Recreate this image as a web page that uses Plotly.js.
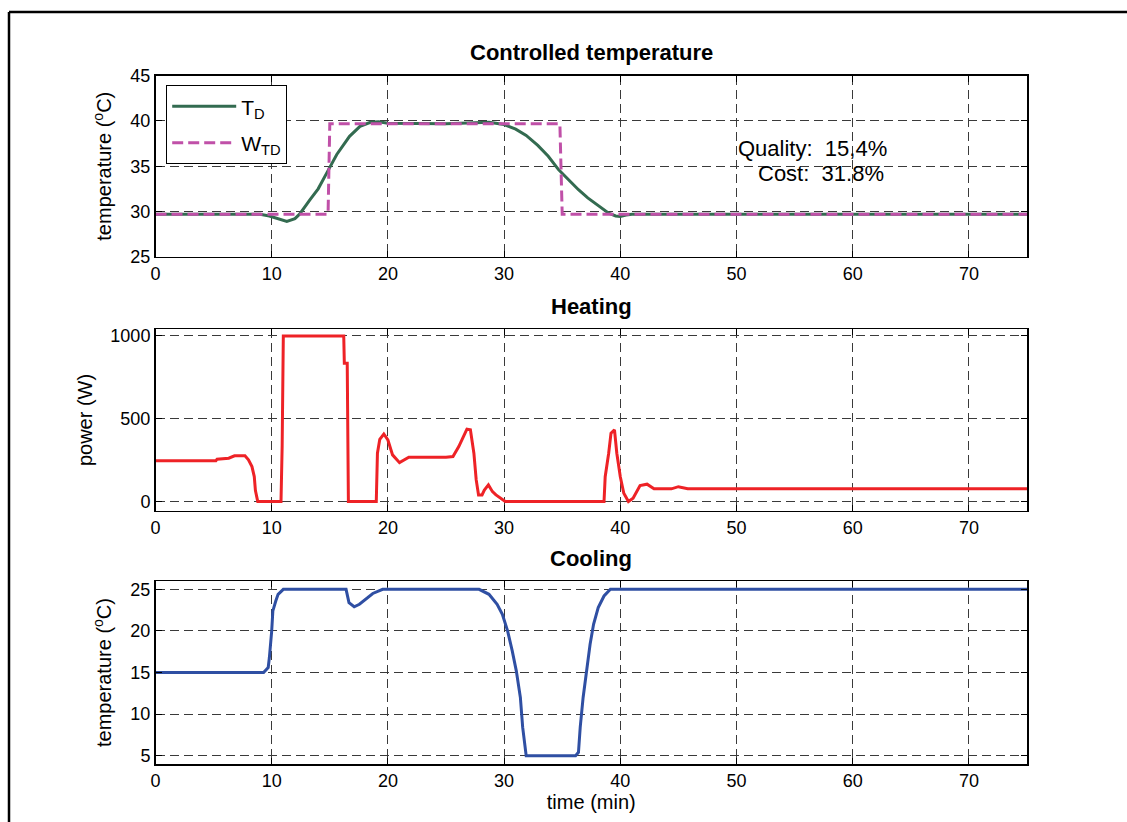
<!DOCTYPE html>
<html>
<head>
<meta charset="utf-8">
<script src="https://cdn.plot.ly/plotly-3.0.1.min.js"></script>
<style>html,body{margin:0;padding:0;background:#fff;}#chart{width:1127px;height:822px;}</style>
</head>
<body>
<div id="chart"></div>
<script>
// ---- Controlled temperature ----
const tdTime = [0, 9, 9.8, 10.5, 11.3, 12.0, 12.4, 13.3, 14.0, 14.8, 15.6, 16.7, 17.6, 18.5, 19.2, 20.0, 25, 28.7, 30, 31, 31.9, 32.9, 33.8, 34.7, 35.6, 36.4, 37.2, 37.9, 38.5, 39, 39.6, 40, 40.5, 41, 75];
const tdTemp = [29.7, 29.7, 29.5, 29.2, 28.9, 29.2, 29.7, 31.3, 32.5, 34.4, 36.3, 38.3, 39.4, 39.85, 39.9, 39.75, 39.7, 39.85, 39.6, 39.1, 38.4, 37.3, 36.1, 34.6, 33.4, 32.4, 31.5, 30.8, 30.2, 29.8, 29.5, 29.45, 29.6, 29.7, 29.7];
const wtdTime = [0, 14.85, 15.0, 34.8, 35.0, 75];
const wtdTemp = [29.7, 29.7, 39.7, 39.7, 29.7, 29.7];
const qualityText = 'Quality:  15,4%';
const costText = 'Cost:  31.8%';

// ---- Heating ----
const heatTime = [0, 5.2, 5.3, 6.3, 6.8, 7.7, 8.0, 8.3, 8.5, 8.6, 8.8, 10.8, 10.9, 11.0, 16.2, 16.25, 16.5, 16.6, 19.0, 19.05, 19.1, 19.3, 19.65, 20.0, 20.4, 21.0, 21.8, 25.0, 25.6, 26.1, 26.8, 27.1, 27.4, 27.6, 27.8, 28.1, 28.3, 28.65, 29.0, 29.3, 29.85, 30.1, 38.6, 38.7, 39.0, 39.2, 39.5, 39.7, 40.0, 40.3, 40.7, 41.1, 41.7, 42.3, 42.9, 44.4, 45.0, 45.8, 75];
const heatPower = [247, 247, 256, 262, 276, 276, 252, 211, 151, 66, 0, 0, 336, 1000, 1000, 835, 835, 0, 0, 150, 292, 376, 408, 372, 282, 235, 268, 268, 272, 332, 437, 433, 292, 131, 40, 40, 70, 101, 60, 40, 15, 0, 0, 150, 292, 413, 433, 292, 150, 50, 0, 20, 97, 105, 77, 77, 90, 77, 77];

// ---- Cooling ----
const coolTime = [0, 9.3, 9.7, 9.8, 10.0, 10.1, 10.35, 10.55, 11.0, 16.4, 16.65, 17.1, 17.55, 18.1, 18.7, 19.55, 27.85, 28.7, 29.4, 29.85, 30.3, 30.7, 31.05, 31.4, 31.6, 31.9, 36.15, 36.4, 36.55, 36.8, 37.1, 37.4, 37.7, 38.1, 38.6, 39.15, 75];
const coolTemp = [15, 15, 15.6, 16.8, 20.0, 22.4, 23.6, 24.4, 25, 25, 23.4, 22.9, 23.2, 23.8, 24.5, 25, 25, 24.4, 23.2, 22.0, 20, 17.6, 15.2, 12.0, 8.4, 5, 5, 5.4, 8.4, 12, 15.2, 18.4, 20.8, 22.8, 24.2, 25, 25];

const xTicks = [0, 10, 20, 30, 40, 50, 60, 70];
const panelTitles = ['Controlled temperature', 'Heating', 'Cooling'];

const W = 1127, H = 822;
const px = v => v / W;
const py = v => 1 - v / H;
const xDomain = [px(155.5), px(1027)];

const gridDash = '9px,5px';
const baseAxis = {
  showline: true, linecolor: 'black', linewidth: 1.5, mirror: 'ticks',
  ticks: 'inside', ticklen: 6, tickcolor: 'black', tickwidth: 1,
  showgrid: true, gridcolor: '#3a3a3a', gridwidth: 1, griddash: gridDash,
  zeroline: false, tickfont: {size: 18, color: 'black'}, fixedrange: true
};
function xa(anchor, extra) {
  return Object.assign({}, baseAxis, {domain: xDomain, anchor: anchor, range: [0, 75], tickvals: xTicks}, extra || {});
}
function ya(anchor, dom, extra) {
  return Object.assign({}, baseAxis, {domain: dom, anchor: anchor}, extra || {});
}

const traces = [
  {x: tdTime, y: tdTemp, xaxis: 'x', yaxis: 'y', mode: 'lines', name: 'T<sub>D</sub>', legendgroup: 'a',
   line: {color: '#336b50', width: 3}},
  {x: wtdTime, y: wtdTemp, xaxis: 'x', yaxis: 'y', mode: 'lines', name: 'W<sub>TD</sub>', legendgroup: 'b',
   line: {color: '#c050a8', width: 3, dash: '11px,5px'}},
  {x: heatTime, y: heatPower, xaxis: 'x2', yaxis: 'y2', mode: 'lines', showlegend: false,
   line: {color: '#ee2226', width: 3}},
  {x: coolTime, y: coolTemp, xaxis: 'x3', yaxis: 'y3', mode: 'lines', showlegend: false,
   line: {color: '#2f4fa3', width: 3}}
];

const axTitleFont = {size: 20};
const layout = {
  width: W, height: H,
  margin: {l: 0, r: 0, t: 0, b: 0},
  paper_bgcolor: 'white', plot_bgcolor: 'white',
  font: {family: 'Liberation Sans, Arial, sans-serif', color: 'black'},
  showlegend: true,
  legend: {x: px(166), y: py(85), xanchor: 'left', yanchor: 'top',
           bordercolor: 'black', borderwidth: 1.2, bgcolor: 'white',
           font: {size: 21, color: 'black'}, tracegroupgap: 6, itemwidth: 64},
  xaxis: xa('y'),
  yaxis: ya('x', [py(256.7), py(75.7)], {range: [25, 45], tickvals: [25, 30, 35, 40, 45],
         title: {text: 'temperature (<sup>o</sup>C)', font: axTitleFont, standoff: 13}}),
  xaxis2: xa('y2'),
  yaxis2: ya('x2', [py(510.7), py(329.3)], {range: [-55, 1040], tickvals: [0, 500, 1000],
         title: {text: 'power (W)', font: axTitleFont, standoff: 12}}),
  xaxis3: xa('y3', {title: {text: 'time (min)', font: axTitleFont, standoff: 4}}),
  yaxis3: ya('x3', [py(764), py(581)], {range: [4, 26], tickvals: [5, 10, 15, 20, 25],
         title: {text: 'temperature (<sup>o</sup>C)', font: axTitleFont, standoff: 13}}),
  annotations: [
    {text: '<b>' + panelTitles[0] + '</b>', xref: 'paper', yref: 'paper', x: px(591), y: py(52), xanchor: 'center', yanchor: 'middle', showarrow: false, font: {size: 22}},
    {text: '<b>' + panelTitles[1] + '</b>', xref: 'paper', yref: 'paper', x: px(591), y: py(306), xanchor: 'center', yanchor: 'middle', showarrow: false, font: {size: 22}},
    {text: '<b>' + panelTitles[2] + '</b>', xref: 'paper', yref: 'paper', x: px(591), y: py(558), xanchor: 'center', yanchor: 'middle', showarrow: false, font: {size: 22}},
    {text: qualityText, xref: 'paper', yref: 'paper', x: px(889), y: py(148), xanchor: 'right', yanchor: 'middle', showarrow: false, font: {size: 22}},
    {text: costText, xref: 'paper', yref: 'paper', x: px(886), y: py(173), xanchor: 'right', yanchor: 'middle', showarrow: false, font: {size: 22}}
  ],
  shapes: [
    {type: 'line', xref: 'paper', yref: 'paper', x0: px(9), x1: px(9), y0: 0, y1: py(12), line: {color: 'black', width: 2.5}},
    {type: 'line', xref: 'paper', yref: 'paper', x0: px(9), x1: 1, y0: py(12), y1: py(12), line: {color: 'black', width: 2.5}}
  ]
};

Plotly.newPlot('chart', traces, layout, {displayModeBar: false, staticPlot: true});
</script>
</body>
</html>
